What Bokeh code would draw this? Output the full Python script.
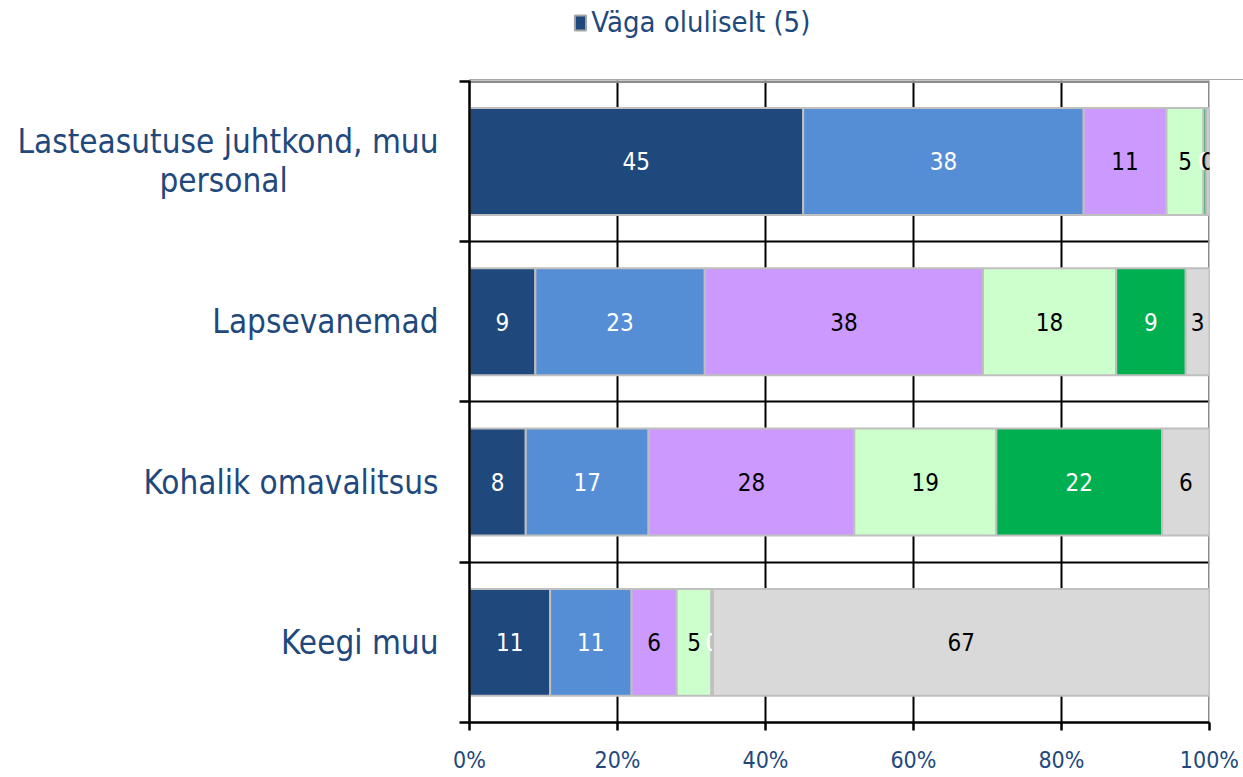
import numpy as np
from bokeh.plotting import figure
from bokeh.layouts import column
from bokeh.models import (Range1d, FixedTicker, Legend, LegendItem, ColumnDataSource,
                          LinearAxis, Grid)
from bokeh.embed import file_html
from bokeh.resources import INLINE
from bokeh.core.properties import value

# ---- data -------------------------------------------------------------
categories = ["Lasteasutuse juhtkond, muu\npersonal" + "\u00a0" * 16, "Lapsevanemad",
              "Kohalik omavalitsus", "Keegi muu"]
series_names = ["Väga oluliselt (5)", "4", "3", "2", "Üldse mitte (1)", "Ei oska öelda"]
v5 = [45.1, 8.9, 7.6, 10.9]
v4 = [37.9, 22.9, 16.6, 11.0]
v3 = [11.2, 37.6, 27.8, 6.1]
v2 = [5.0, 18.0, 19.2, 4.7]
v1 = [0.4, 9.4, 22.4, 0.2]
v0 = [0.4, 3.2, 6.4, 67.1]
x_ticks = [0, 20, 40, 60, 80, 100]
x_tick_labels = ["0%", "20%", "40%", "60%", "80%", "100%"]

# ---- styles -----------------------------------------------------------
colors = ["#1F497D", "#558ED5", "#CC99FF", "#CCFFCC", "#00B050", "#D9D9D9"]
label_colors = ["white", "white", "black", "black", "white", "black"]
FONT = "'DejaVu Sans Condensed', 'DejaVu Sans', sans-serif"
TXT = "#1F497D"

series = [v5, v4, v3, v2, v1, v0]
n = len(categories)
ys = [n - i - 0.5 for i in range(n)]

# ---- main plot ----------------------------------------------------------
# ranges end a hair past the last tick so the grey edge grid lines get drawn
p = figure(frame_width=740, frame_height=642, output_backend="svg",
           toolbar_location=None, title_location=None,
           x_range=Range1d(0, 100.01), y_range=Range1d(0, n + 0.005),
           min_border_left=469, min_border_right=34, min_border_top=0,
           min_border_bottom=55)
p.background_fill_color = "white"
p.border_fill_color = "white"
p.outline_line_color = None

# ---- legend strip ---------------------------------------------------------
lg = figure(frame_width=1243, frame_height=80, output_backend="svg", toolbar_location=None,
            title_location=None, x_axis_type=None, y_axis_type=None, min_border=0,
            x_range=Range1d(0, 1), y_range=Range1d(0, 1))
lg.outline_line_color = None
lg.grid.visible = False
lg.background_fill_color = "white"
lg.border_fill_color = "white"

left = np.zeros(n)
items = []
for name, vals, col, lcol in zip(series_names, series, colors, label_colors):
    vals = np.array(vals, dtype=float)
    right = left + vals
    src = ColumnDataSource(dict(y=ys, left=left, right=right,
                                xc=(left + right) / 2,
                                lab=[str(int(round(v))) for v in vals]))
    p.hbar(y="y", left="left", right="right", height=0.667, source=src,
           fill_color=col, line_color="#BFBFBF", line_width=2)
    p.text(x="xc", y="y", text="lab", source=src, text_align="center",
           text_baseline="middle", text_font=value(FONT),
           text_font_size="24px", text_color=lcol)
    # legend-only renderer: one bar placed outside the strip's visible range
    r = lg.hbar(y=[-5], left=[0], right=[1], height=0.5,
                fill_color=col, line_color="#A6A6A6", line_width=2)
    items.append(LegendItem(label=name, renderers=[r]))
    left = right

legend = Legend(items=items, orientation="horizontal", location=(159, 41),
                label_text_font=FONT, label_text_font_size="29px",
                label_text_color=TXT, glyph_width=14, glyph_height=19,
                label_standoff=4, spacing=28, padding=0, margin=0,
                border_line_color=None, background_fill_alpha=0)
lg.add_layout(legend)

# x axis
p.xaxis.ticker = FixedTicker(ticks=x_ticks)
p.xaxis.major_label_overrides = {t: l for t, l in zip(x_ticks, x_tick_labels)}
p.xaxis.major_label_text_font = FONT
p.xaxis.major_label_text_font_size = "23px"
p.xaxis.major_label_text_color = TXT
p.xaxis.major_label_standoff = 16
p.xaxis.major_tick_out = 8
p.xaxis.major_tick_in = 0
p.xaxis.minor_tick_line_color = None
p.xaxis.axis_line_color = "black"
p.xaxis.axis_line_width = 2.5
p.xaxis.major_tick_line_color = "black"
p.xaxis.major_tick_line_width = 2.5

# y axis: ticks at category boundaries, no labels
y_bounds = list(range(n + 1))
p.yaxis.ticker = FixedTicker(ticks=y_bounds)
p.yaxis.major_label_overrides = {t: "" for t in y_bounds}
p.yaxis.major_label_standoff = 0
p.yaxis.major_tick_out = 10
p.yaxis.major_tick_in = 0
p.yaxis.minor_tick_line_color = None
p.yaxis.axis_line_color = "black"
p.yaxis.axis_line_width = 2.5
p.yaxis.major_tick_line_color = "black"
p.yaxis.major_tick_line_width = 2.5

# second y axis carrying the category names
cat_axis = LinearAxis(ticker=FixedTicker(ticks=ys),
                      major_label_overrides={y: c for y, c in zip(ys, categories)},
                      axis_line_color=None, major_tick_line_color=None,
                      minor_tick_line_color=None, major_label_standoff=15,
                      major_label_text_font=FONT, major_label_text_font_size="33px",
                      major_label_text_color=TXT, major_label_text_line_height=1.0)
p.add_layout(cat_axis, "left")

# grid lines: black inside, grey on the top and right edges of the plot area
p.xgrid.ticker = FixedTicker(ticks=x_ticks[1:-1])
p.xgrid.grid_line_color = "black"
p.xgrid.grid_line_width = 2
p.ygrid.ticker = FixedTicker(ticks=list(range(1, n)))
p.ygrid.grid_line_color = "black"
p.ygrid.grid_line_width = 2
p.add_layout(Grid(dimension=0, ticker=FixedTicker(ticks=[x_ticks[-1]]),
                  grid_line_color="#8C8C8C", grid_line_width=3))
p.add_layout(Grid(dimension=1, ticker=FixedTicker(ticks=[n]),
                  grid_line_color="#8C8C8C", grid_line_width=3))

layout = column(lg, p, spacing=0)
open("out.html", "w").write(file_html(layout, INLINE))
